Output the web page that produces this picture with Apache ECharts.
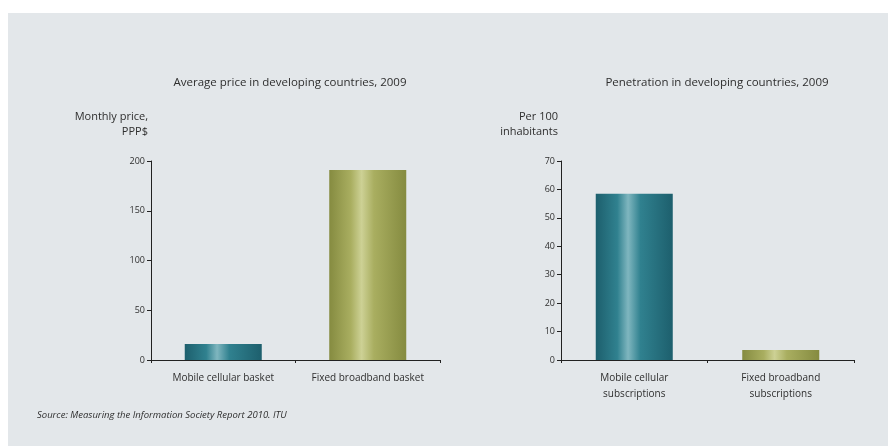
<!DOCTYPE html>
<html>
<head>
<meta charset="utf-8">
<script src="https://cdn.jsdelivr.net/npm/echarts@6/dist/echarts.min.js"></script>
<style>
  html, body { margin: 0; padding: 0; background: #ffffff; }
  #main { width: 888px; height: 446px; }
</style>
</head>
<body>
<div id="main"></div>
<script>
  // price chart
  const priceCategories = ['Mobile cellular basket', 'Fixed broadband basket'];
  const priceValues = [16, 191];
  const priceTicks = [0, 50, 100, 150, 200];

  // penetration chart
  const penCategories = ['Mobile cellular\nsubscriptions', 'Fixed broadband\nsubscriptions'];
  const penValues = [58.5, 3.5];
  const penTicks = [0, 10, 20, 30, 40, 50, 60, 70];

  const font = 'Open Sans';
  const textColor = '#2e2e2e';

  function cyl(edge, mid, light) {
    return new echarts.graphic.LinearGradient(0, 0, 1, 0, [
      { offset: 0, color: edge },
      { offset: 0.28, color: mid },
      { offset: 0.42, color: light },
      { offset: 0.58, color: mid },
      { offset: 1, color: edge }
    ]);
  }
  const teal = cyl('#1d5f6d', '#30818f', '#7fb6bf');
  const olive = cyl('#858b40', '#a9ae60', '#cdd195');

  function yAxis(idx, name, ticks) {
    return {
      type: 'value',
      gridIndex: idx,
      min: ticks[0],
      max: ticks[ticks.length - 1],
      interval: ticks[1] - ticks[0],
      name: name,
      nameLocation: 'end',
      nameGap: 22,
      nameTextStyle: { align: 'right', fontFamily: font, fontSize: 11, color: textColor, lineHeight: 15, padding: [0, 3, 0, 0] },
      axisLine: { show: true, lineStyle: { color: '#222', width: 1 } },
      axisTick: { show: true, length: 4, lineStyle: { color: '#222' } },
      axisLabel: { fontFamily: font, fontSize: 9, color: textColor, margin: 6 },
      splitLine: { show: false }
    };
  }

  function xAxis(idx, cats) {
    return {
      type: 'category',
      gridIndex: idx,
      data: cats,
      axisLine: { lineStyle: { color: '#222', width: 1 } },
      axisTick: { show: true, length: 3, lineStyle: { color: '#222' } },
      axisLabel: { fontFamily: font, fontSize: 10, color: textColor, margin: 10, lineHeight: 16, interval: 0 }
    };
  }

  const chart = echarts.init(document.getElementById('main'));
  chart.setOption({
    backgroundColor: '#ffffff',
    graphic: [{
      type: 'rect',
      left: 8, top: 13,
      shape: { width: 880, height: 433 },
      style: { fill: '#e3e7ea' },
      z: -10
    }, {
      type: 'text',
      left: 37, top: 410,
      style: {
        text: 'Source: Measuring the Information Society Report 2010. ITU',
        fontFamily: font, fontStyle: 'italic', fontSize: 9.5, fill: textColor
      }
    }],
    title: [{
      text: 'Average price in developing countries, 2009',
      left: 285, top: 72, textAlign: 'center',
      textStyle: { fontFamily: font, fontSize: 11.5, fontWeight: 'normal', color: textColor }
    }, {
      text: 'Penetration in developing countries, 2009',
      left: 712, top: 72, textAlign: 'center',
      textStyle: { fontFamily: font, fontSize: 11.5, fontWeight: 'normal', color: textColor }
    }],
    grid: [
      { left: 151, right: 448, top: 161, bottom: 86 },
      { left: 561, right: 34, top: 161, bottom: 86 }
    ],
    xAxis: [xAxis(0, priceCategories), xAxis(1, penCategories)],
    yAxis: [yAxis(0, 'Monthly price,\nPPP$', priceTicks), yAxis(1, 'Per 100\ninhabitants', penTicks)],
    series: [{
      type: 'bar',
      xAxisIndex: 0, yAxisIndex: 0,
      barWidth: 77,
      data: priceValues.map((v, i) => ({ value: v, itemStyle: { color: i === 0 ? teal : olive, shadowBlur: 3, shadowColor: 'rgba(0,0,0,0.25)' } }))
    }, {
      type: 'bar',
      xAxisIndex: 1, yAxisIndex: 1,
      barWidth: 77,
      data: penValues.map((v, i) => ({ value: v, itemStyle: { color: i === 0 ? teal : olive, shadowBlur: 3, shadowColor: 'rgba(0,0,0,0.25)' } }))
    }]
  });
</script>
</body>
</html>
